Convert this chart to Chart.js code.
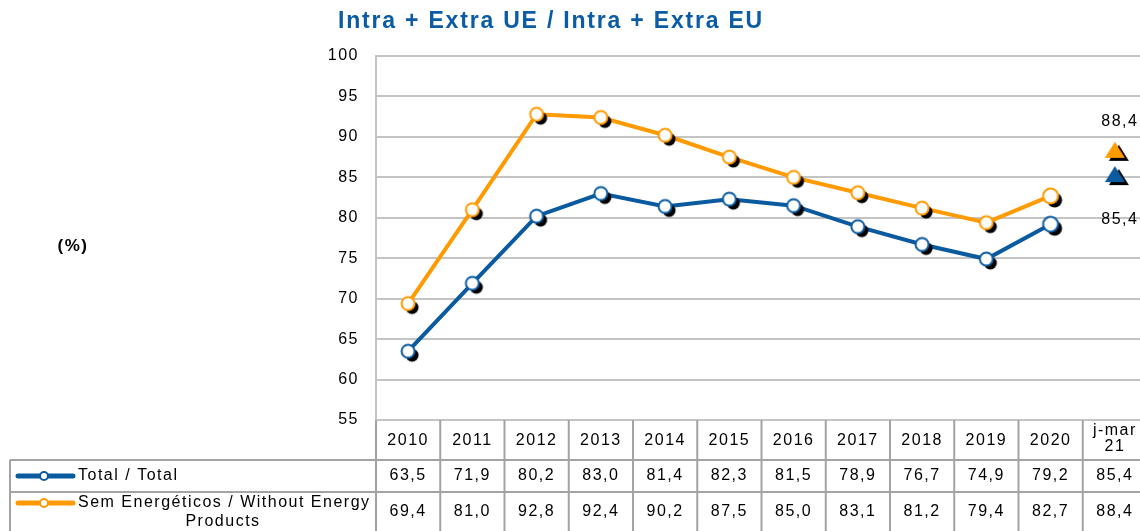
<!DOCTYPE html>
<html>
<head>
<meta charset="utf-8">
<script src="https://cdn.jsdelivr.net/npm/chart.js@4"></script>
<style>
  html, body { margin: 0; padding: 0; background: #fff; }
  #wrap { width: 1140px; height: 531px; position: relative; }
</style>
</head>
<body>
<div id="wrap"><canvas id="chart" width="1140" height="531"></canvas></div>
<script>
// categories and values
const categories = ["2010", "2011", "2012", "2013", "2014", "2015", "2016", "2017", "2018", "2019", "2020", "j-mar 21"];
const totalValues = [63.5, 71.9, 80.2, 83.0, 81.4, 82.3, 81.5, 78.9, 76.7, 74.9, 79.2, 85.4];
const withoutEnergyValues = [69.4, 81.0, 92.8, 92.4, 90.2, 87.5, 85.0, 83.1, 81.2, 79.4, 82.7, 88.4];
const yTicks = [55, 60, 65, 70, 75, 80, 85, 90, 95, 100];

const BLUE = "#0a5a9f";
const ORANGE = "#ff9a00";
const FONT = "'Liberation Sans', Arial, sans-serif";
const SPACING = "1.5px";
// the original plot runs a few pixels past the right edge of the picture
const PLOT_RIGHT = 1147;

// yearly points are drawn as a line, the partial year as a lone triangle
const yearly = (arr) => arr.map((v, i) => i < arr.length - 1 ? v : null);
const partial = (arr) => arr.map((v, i) => i === arr.length - 1 ? v : null);
const fmt = (v) => v.toFixed(1).replace(".", ",");

/**
 * Marker image: white circle / filled triangle with a black drop shadow
 */
function makeMarker(color, shape, big) {
  const c = document.createElement("canvas");
  c.width = 34; c.height = 34;
  const g = c.getContext("2d");
  if (shape === "circle") {
    const r = big ? 7.5 : 6.5;
    g.fillStyle = "#000";
    g.beginPath(); g.arc(21, 21, r, 0, Math.PI * 2); g.fill();
    g.fillStyle = "#fff";
    g.strokeStyle = color;
    g.lineWidth = 2;
    g.beginPath(); g.arc(17, 17, r, 0, Math.PI * 2); g.fill(); g.stroke();
  } else {
    const tri = (dx, dy, fill) => {
      g.fillStyle = fill;
      g.beginPath();
      g.moveTo(17 + dx, 9 + dy);
      g.lineTo(27 + dx, 25 + dy);
      g.lineTo(7 + dx, 25 + dy);
      g.closePath();
      g.fill();
    };
    tri(4, 3, "#000");
    tri(0, 0, color);
  }
  return c;
}

// the last yearly point (2020) has a slightly larger marker
const circleStyles = (color) => categories.map((c, i) =>
  makeMarker(color, "circle", i === categories.length - 2));

const widenPlugin = {
  id: "widenPlot",
  afterLayout(chart) {
    const x = chart.scales.x;
    chart.chartArea.right = PLOT_RIGHT;
    chart.chartArea.width = PLOT_RIGHT - chart.chartArea.left;
    x.right = PLOT_RIGHT;
    x.width = PLOT_RIGHT - x.left;
    x.configure();
  },
  beforeDraw(chart) { chart.ctx.letterSpacing = SPACING; }
};

const tablePlugin = {
  id: "tableAndLabels",
  afterDraw(chart) {
    const ctx = chart.ctx;
    const x = chart.scales.x;
    const y = chart.scales.y;
    const area = chart.chartArea;
    const n = categories.length;
    const colW = (area.right - area.left) / n;

    ctx.save();
    ctx.textAlign = "center";
    ctx.textBaseline = "middle";

    // title
    ctx.letterSpacing = "1.8px";
    ctx.fillStyle = "#0b5ca5";
    ctx.font = "bold 23px " + FONT;
    ctx.fillText("Intra + Extra UE / Intra + Extra EU", 551, 22);

    // unit label
    ctx.letterSpacing = SPACING;
    ctx.fillStyle = "#000";
    ctx.font = "bold 17px " + FONT;
    ctx.fillText("(%)", 73, 246);

    // value labels of the partial year
    const last = n - 1;
    ctx.font = "16px " + FONT;
    ctx.fillText(fmt(withoutEnergyValues[last]), x.getPixelForValue(last) + 5, y.getPixelForValue(withoutEnergyValues[last]) - 28);
    ctx.fillText(fmt(totalValues[last]), x.getPixelForValue(last) + 5, y.getPixelForValue(totalValues[last]) + 45);

    // table grid
    const top = area.bottom;
    const headBottom = 460;
    const row1Bottom = 492;
    const bottom = 540;
    const tableLeft = 10;
    ctx.strokeStyle = "#a3a3a3";
    ctx.lineWidth = 2;
    ctx.beginPath();
    for (let i = 0; i <= n; i++) {
      const px = area.left + i * colW;
      ctx.moveTo(px, top); ctx.lineTo(px, bottom);
    }
    ctx.moveTo(tableLeft, headBottom); ctx.lineTo(area.right, headBottom);
    ctx.moveTo(tableLeft, row1Bottom); ctx.lineTo(area.right, row1Bottom);
    ctx.moveTo(tableLeft, headBottom); ctx.lineTo(tableLeft, bottom);
    ctx.stroke();

    // header row
    ctx.fillStyle = "#000";
    categories.forEach((cat, i) => {
      const cx = x.getPixelForValue(i);
      if (cat === "j-mar 21") {
        ctx.fillText("j-mar", cx, 431);
        ctx.fillText("21", cx, 447);
      } else {
        ctx.fillText(cat, cx, 441);
      }
    });

    // value rows
    totalValues.forEach((v, i) => ctx.fillText(fmt(v), x.getPixelForValue(i), 476));
    withoutEnergyValues.forEach((v, i) => ctx.fillText(fmt(v), x.getPixelForValue(i), 512));

    // legend keys inside the table
    const key = (cy, color) => {
      ctx.strokeStyle = color;
      ctx.lineWidth = 5;
      ctx.lineCap = "round";
      ctx.beginPath(); ctx.moveTo(18, cy); ctx.lineTo(73, cy); ctx.stroke();
      ctx.fillStyle = "#fff";
      ctx.lineWidth = 2;
      ctx.beginPath(); ctx.arc(44, cy, 4, 0, Math.PI * 2); ctx.fill(); ctx.stroke();
    };
    key(476, BLUE);
    key(503, ORANGE);
    ctx.fillStyle = "#000";
    ctx.textAlign = "left";
    ctx.fillText("Total / Total", 78, 476);
    ctx.fillText("Sem Energéticos / Without Energy", 78, 503);
    ctx.textAlign = "center";
    ctx.fillText("Products", 223, 522);
    ctx.restore();
  }
};

new Chart(document.getElementById("chart"), {
  type: "line",
  data: {
    labels: categories,
    datasets: [
      {
        label: "Sem Energéticos / Without Energy Products",
        data: yearly(withoutEnergyValues),
        borderColor: ORANGE,
        borderWidth: 4,
        pointStyle: circleStyles(ORANGE),
        clip: false
      },
      {
        label: "Total / Total",
        data: yearly(totalValues),
        borderColor: BLUE,
        borderWidth: 4,
        pointStyle: circleStyles(BLUE),
        clip: false
      },
      {
        label: "j-mar 21 without energy",
        data: partial(withoutEnergyValues),
        showLine: false,
        pointStyle: makeMarker(ORANGE, "triangle"),
        clip: false
      },
      {
        label: "j-mar 21 total",
        data: partial(totalValues),
        showLine: false,
        pointStyle: makeMarker(BLUE, "triangle"),
        clip: false
      }
    ]
  },
  options: {
    responsive: false,
    animation: false,
    layout: { autoPadding: false, padding: { left: 0, top: 56, right: 0, bottom: 111 } },
    plugins: {
      legend: { display: false },
      tooltip: { enabled: false }
    },
    scales: {
      x: {
        type: "category",
        offset: true,
        display: false
      },
      y: {
        min: yTicks[0],
        max: yTicks[yTicks.length - 1],
        afterFit: (scale) => { scale.width = 376; },
        afterBuildTicks: (scale) => { scale.ticks = yTicks.map(v => ({ value: v })); },
        grid: { color: "#c4c4c4", lineWidth: 2, drawTicks: false },
        border: { display: true, color: "#c4c4c4", width: 2 },
        ticks: {
          color: "#000",
          padding: 17,
          font: { family: FONT, size: 16 }
        }
      }
    }
  },
  plugins: [widenPlugin, tablePlugin]
});
</script>
</body>
</html>
